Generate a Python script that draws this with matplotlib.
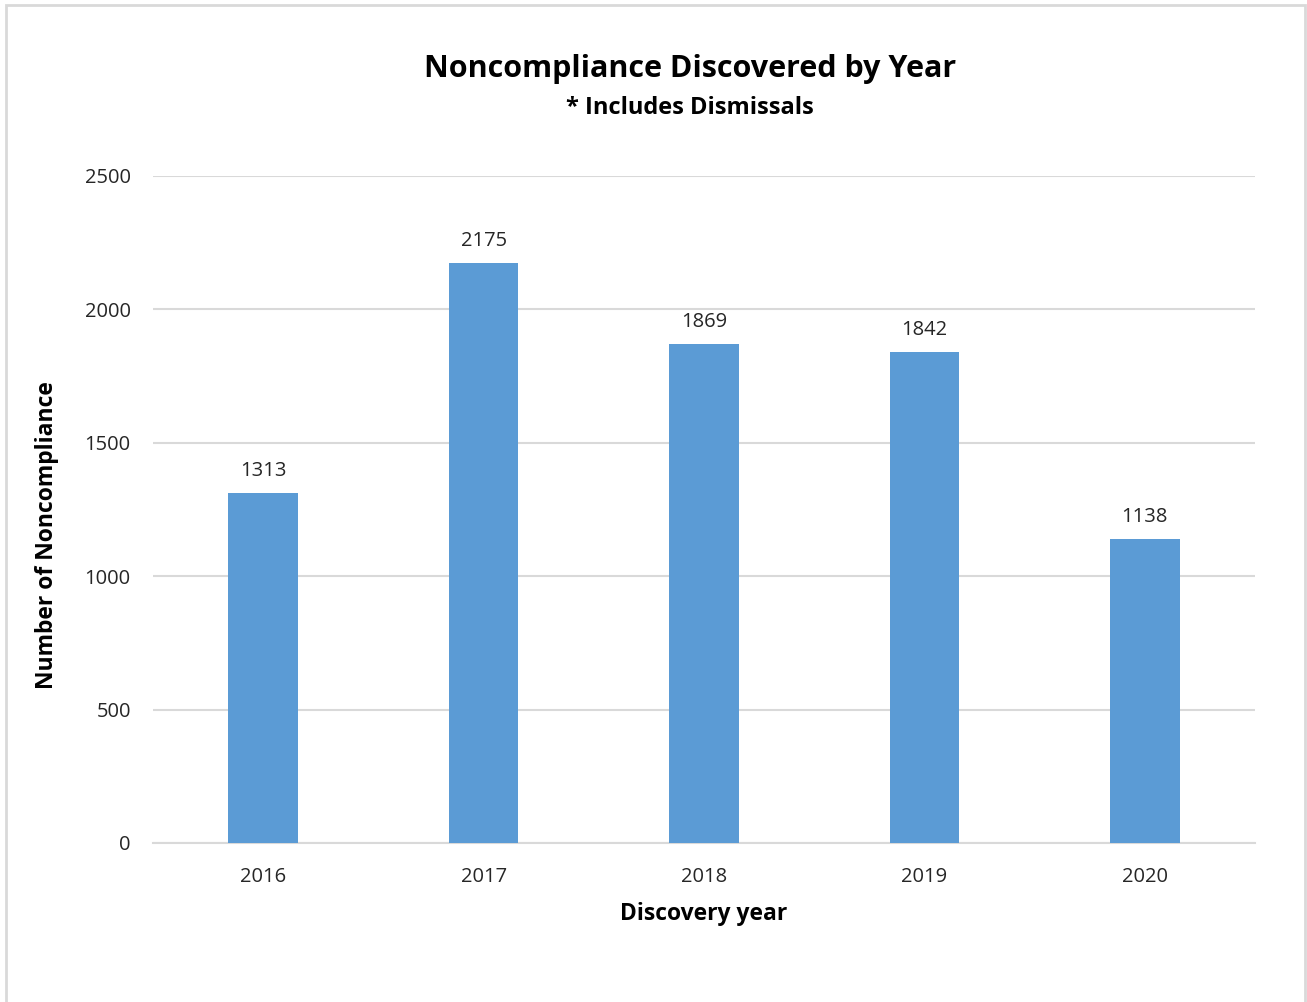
import matplotlib
matplotlib.use("Agg")
import matplotlib.pyplot as plt
from matplotlib.patches import Rectangle

years = ["2016", "2017", "2018", "2019", "2020"]
counts = [1313, 2175, 1869, 1842, 1138]
yticks = [0, 500, 1000, 1500, 2000, 2500]

plt.rcParams['font.family'] = ['Open Sans', 'DejaVu Sans']

W, H = 1307, 1002
fig = plt.figure(figsize=(W/100, H/100), dpi=100)
fig.patch.set_facecolor("white")
fig.add_artist(Rectangle((6/W, -0.01), (1305-6)/W, 1 - 5/H + 0.01,
                         transform=fig.transFigure, fill=False,
                         edgecolor="#d9d9d9", linewidth=2))

L, R, T, B = 153, 1255, 176, 843
ax = fig.add_axes([L/W, 1-B/H, (R-L)/W, (B-T)/H])
x = range(len(years))
ax.bar(x, counts, width=0.315, color="#5B9BD5", zorder=3)
for xi, v in zip(x, counts):
    ax.text(xi, v + 45, str(v), ha="center", va="bottom", fontsize=14.5, color="#262626")

ax.set_xlim(-0.5, len(years) - 0.5)
ax.set_ylim(0, 2500)
ax.set_yticks(yticks)
ax.set_yticklabels([str(t) for t in yticks])
ax.set_xticks(list(x))
ax.set_xticklabels(years)
ax.tick_params(axis="both", length=0, labelsize=14.5, labelcolor="#262626")
ax.tick_params(axis="y", pad=16)
ax.tick_params(axis="x", pad=17)
ax.grid(axis="y", color="#d9d9d9", linewidth=1.5, zorder=0)
for s in ["top", "right", "left"]:
    ax.spines[s].set_visible(False)
ax.spines["bottom"].set_color("#d9d9d9")
ax.spines["bottom"].set_linewidth(1.5)

ax.set_xlabel("Discovery year", fontsize=16.5, fontweight="bold", color="#000000")
ax.set_ylabel("Number of Noncompliance", fontsize=16.5, fontweight="bold", color="#000000")
ax.xaxis.label.set_va("center")
ax.yaxis.label.set_va("center")
ax.xaxis.set_label_coords(0.5 + (704 - (L+R)/2)/(R-L), -(914 - B)/(B-T))
ax.yaxis.set_label_coords(-(L - 47)/(R-L), (B - 535)/(B-T))

fig.text(690/W, 1-69/H, "Noncompliance Discovered by Year", ha="center", va="center",
         fontsize=22, fontweight="bold")
fig.text(690/W, 1-108/H, "* Includes Dismissals", ha="center", va="center",
         fontsize=17, fontweight="bold")

fig.savefig("out.png", dpi=100)
